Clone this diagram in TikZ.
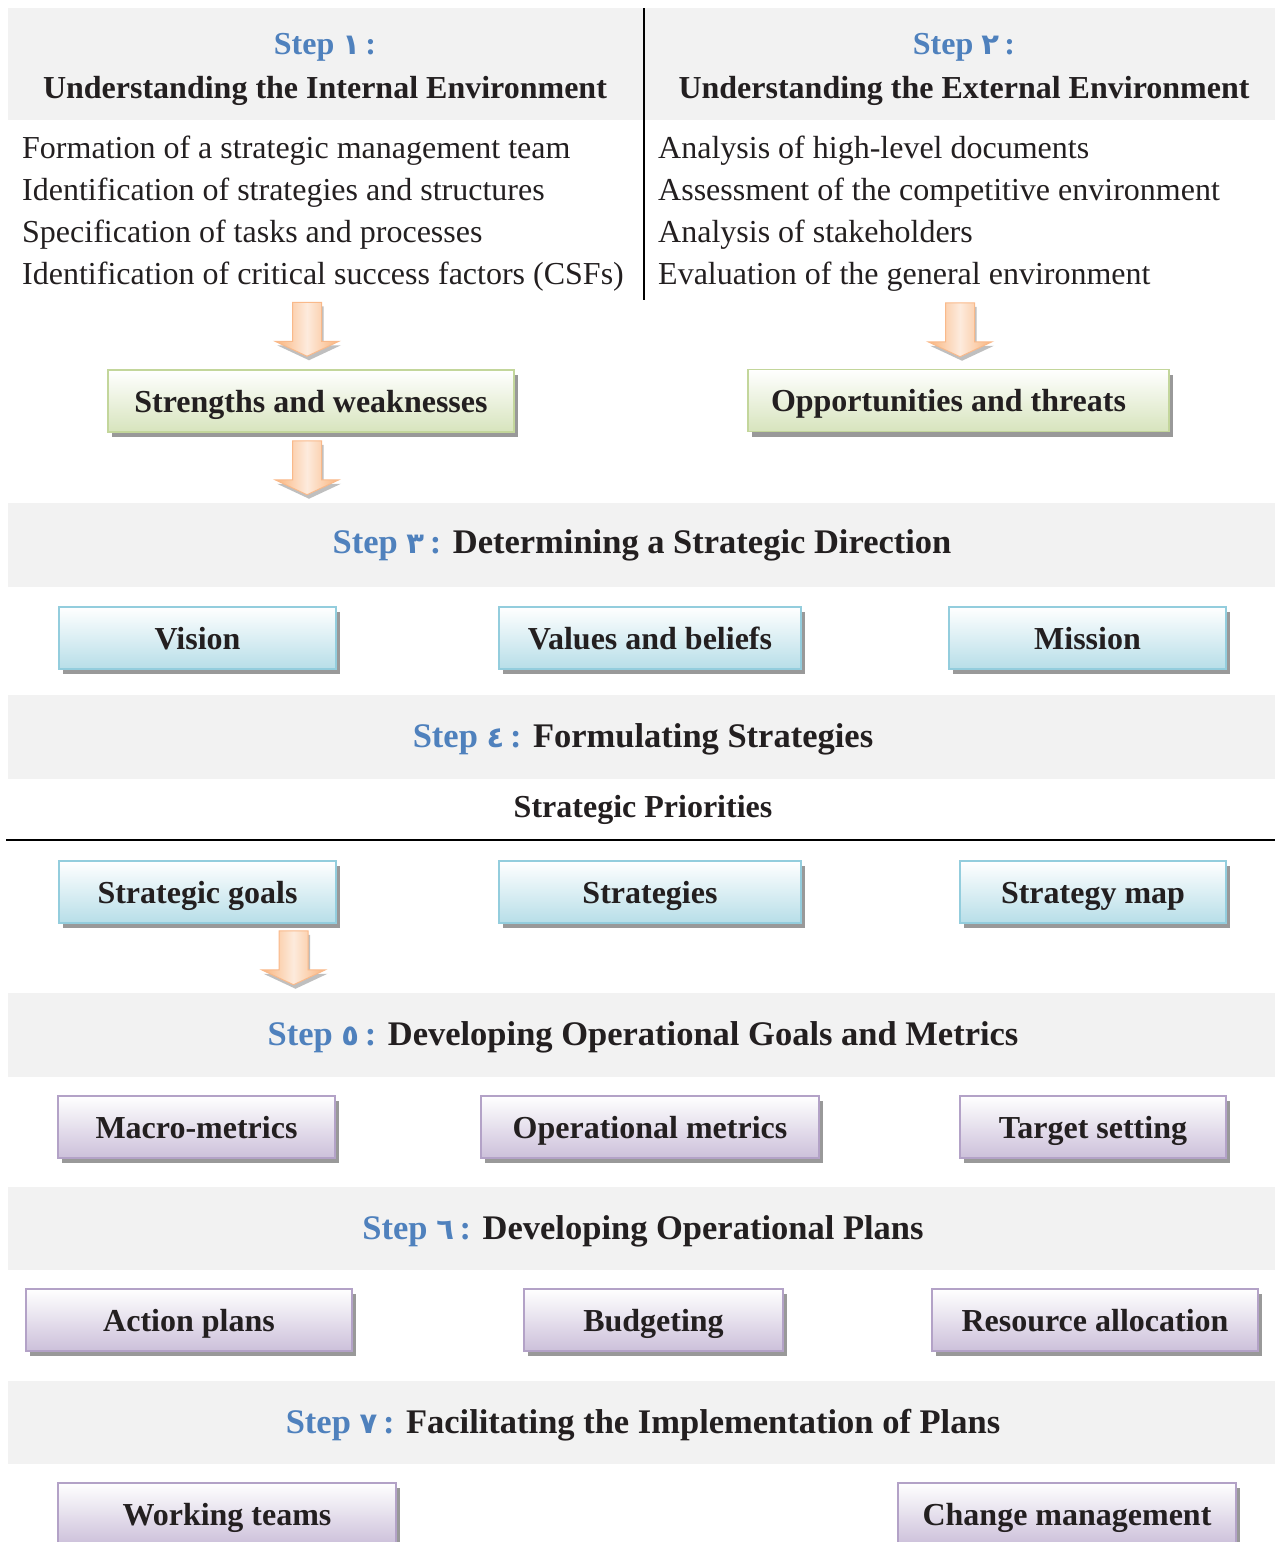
\documentclass[tikz,border=0pt]{standalone}
\usepackage{fontspec}
\setmainfont{Liberation Serif}
\newfontfamily\arabicfont[Script=Arabic]{DejaVu Sans}
\usetikzlibrary{positioning, shadows, calc}

\definecolor{bandgray}{HTML}{F2F2F2}
\definecolor{stepblue}{HTML}{4F81BD}
\definecolor{inkblack}{HTML}{231F20}
\definecolor{greenline}{HTML}{C3D69B}
\definecolor{greenfill}{HTML}{D7E4BD}
\definecolor{blueline}{HTML}{93CDDD}
\definecolor{bluefill}{HTML}{B7DEE8}
\definecolor{purpleline}{HTML}{B3A2C7}
\definecolor{purplefill}{HTML}{CCC0DA}
\definecolor{arrowline}{HTML}{F9B98A}
\definecolor{arrowfill}{HTML}{FAB47C}
\definecolor{arrowlight}{HTML}{FDEBDD}

\newcommand{\stepno}[1]{\textcolor{stepblue}{Step\ {\arabicfont\fontsize{29}{30}\selectfont #1}\,:}}
% block arrow from top point #1 to tip #2
\newcommand{\blockarrow}[2]{%
  \path[orangearrow] ($(#1)+(-14.5,0)$) -- ($(#1)+(14.5,0)$) -- ($(#2)+(14.5,-15)$)
    -- ($(#2)+(32,-15)$) -- (#2) -- ($(#2)+(-32,-15)$) -- ($(#2)+(-14.5,-15)$) -- cycle;}

\begin{document}
\begin{tikzpicture}[x=1pt,y=-1pt,
    band/.style={fill=bandgray},
    steptitle/.style={font=\bfseries\fontsize{32}{44}\selectfont,text=inkblack,align=center},
    bandtitle/.style={font=\bfseries\fontsize{34.5}{40}\selectfont,text=inkblack},
    listtext/.style={font=\fontsize{32}{42}\selectfont,text=inkblack,align=left,anchor=north west,inner sep=0pt},
    box/.style={rectangle,line width=1.5pt,minimum height=62pt,inner sep=0pt,
        text height=26pt,text depth=4pt,
        font=\bfseries\fontsize{32}{36}\selectfont,text=inkblack,
        drop shadow={shadow xshift=4pt,shadow yshift=-5pt,fill=black!40,opacity=1}},
    greenbox/.style={box,draw=greenline,top color=white,bottom color=greenfill},
    bluebox/.style={box,draw=blueline,top color=white,bottom color=bluefill},
    purplebox/.style={box,draw=purpleline,top color=white,bottom color=purplefill},
    orangearrow/.style={draw=arrowline,line width=1pt,left color=arrowfill,right color=arrowfill,middle color=arrowlight,
        drop shadow={shadow xshift=2pt,shadow yshift=-4pt,fill=black!25,opacity=1}}]
    \path[use as bounding box,clip] (0,0) rectangle (1275,1542);

    % step 1 and 2
    \fill[band] (8,8) rectangle (643,120);
    \fill[band] (645,8) rectangle (1275,120);
    \draw[line width=2pt] (644,8) -- (644,300);
    \node[steptitle] (s1) at (325,69) {\stepno{١}\\Understanding the Internal Environment};
    \node[steptitle] (s2) at (964,69) {\stepno{٢}\\Understanding the External Environment};
    \node[listtext] (intlist) at (22,136) {Formation of a strategic management team\\
        Identification of strategies and structures\\
        Specification of tasks and processes\\
        Identification of critical success factors (CSFs)};
    \node[listtext] (extlist) at (658,136) {Analysis of high-level documents\\
        Assessment of the competitive environment\\
        Analysis of stakeholders\\
        Evaluation of the general environment};

    \node[greenbox,minimum width=406pt] (sw) at (311,401) {Strengths and weaknesses};
    \node[greenbox,minimum width=421pt] (ot) at (958.5,400.5) {Opportunities and threats\hspace*{20pt}};
    \blockarrow{$(sw.north)+(-4,-67)$}{$(sw.north)+(-4,-13)$}
    \blockarrow{$(ot.north)+(1.5,-66)$}{$(ot.north)+(1.5,-12)$}
    \blockarrow{$(sw.south)+(-4,8)$}{$(sw.south)+(-4,62)$}

    % step 3
    \fill[band] (8,503) rectangle (1275,587);
    \node[bandtitle] (s3) at (642,545) {\stepno{٣} Determining a Strategic Direction};
    \node[bluebox,minimum width=277pt] (vision) at (197.5,638) {Vision};
    \node[bluebox,minimum width=302pt] (values) at (650,638) {Values and beliefs};
    \node[bluebox,minimum width=277pt] (mission) at (1087.5,638) {Mission};

    % step 4
    \fill[band] (8,695) rectangle (1275,779);
    \node[bandtitle] (s4) at (643,739) {\stepno{٤} Formulating Strategies};
    \node[steptitle] (prio) at (643,810) {Strategic Priorities};
    \draw[line width=1.5pt] (6,840) -- (1275,840);
    \node[bluebox,minimum width=277pt] (goals) at (197.5,892) {Strategic goals};
    \node[bluebox,minimum width=302pt] (strat) at (650,892) {Strategies};
    \node[bluebox,minimum width=266pt] (smap) at (1093,892) {Strategy map};
    \blockarrow{$(goals.south)+(96,7)$}{$(goals.south)+(96,61)$}

    % step 5
    \fill[band] (8,993) rectangle (1275,1077);
    \node[bandtitle] (s5) at (643,1037) {\stepno{٥} Developing Operational Goals and Metrics};
    \node[purplebox,minimum width=277pt] (macro) at (196.5,1127) {Macro-metrics};
    \node[purplebox,minimum width=338pt] (opmet) at (650,1127) {Operational metrics};
    \node[purplebox,minimum width=266pt] (target) at (1093,1127) {Target setting};

    % step 6
    \fill[band] (8,1187) rectangle (1275,1270);
    \node[bandtitle] (s6) at (643,1231) {\stepno{٦} Developing Operational Plans};
    \node[purplebox,minimum width=326pt] (action) at (189,1320) {Action plans};
    \node[purplebox,minimum width=259pt] (budget) at (653.5,1320) {Budgeting};
    \node[purplebox,minimum width=326pt] (resource) at (1095,1320) {Resource allocation};

    % step 7
    \fill[band] (8,1381) rectangle (1275,1464);
    \node[bandtitle] (s7) at (643,1425) {\stepno{٧} Facilitating the Implementation of Plans};
    \node[purplebox,minimum width=338pt] (teams) at (227,1514) {Working teams};
    \node[purplebox,minimum width=338pt] (change) at (1067,1514) {Change management};
\end{tikzpicture}
\end{document}
